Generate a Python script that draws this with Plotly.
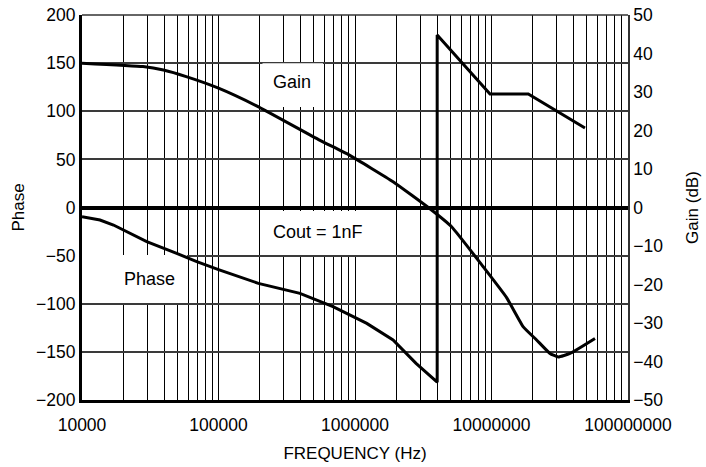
import plotly.graph_objects as go

# ---- data ----
gain_freq = [1e4, 2.8e4, 3.95e4, 5.8e4, 1e5, 1.9e5, 5.5e5, 9.1e5, 1.9e6, 3.5e6,
             5.1e6, 8.7e6, 1.29e7, 1.71e7, 2.14e7, 2.68e7, 3.09e7, 3.76e7, 5.73e7]
gain_db = [37.5, 36.6, 35.7, 34.0, 31.0, 26.4, 17.5, 13.6, 6.7, -0.2,
           -5.0, -15.4, -23.4, -31.0, -34.4, -37.9, -38.8, -37.9, -34.0]

phase_freq = [1e4, 1.355e4, 1.7e4, 2.01e4, 2.98e4, 4.94e4, 6.93e4, 1e5, 1.96e5,
              3.95e5, 6.9e5, 1.22e6, 1.9e6, 2.8e6, 4.0e6, 4.0e6, 9.75e6, 1.86e7, 4.84e7]
phase_deg = [-9.6, -13.0, -18.2, -23.4, -35.5, -47.6, -56.3, -64.5, -78.8,
             -89.2, -103.1, -120.4, -137.7, -161.9, -181.5, 179.2, 117.9, 117.9, 82.6]

decades = [1e4, 1e5, 1e6, 1e7, 1e8]
decade_labels = ["10000", "100000", "1000000", "10000000", "100000000"]
phase_ticks = [-200, -150, -100, -50, 0, 50, 100, 150, 200]
gain_ticks = [-50, -40, -30, -20, -10, 0, 10, 20, 30, 40, 50]

# all 1..9 x 10^k grid positions, label only powers of ten
x_tickvals, x_ticktext = [], []
for d, lab in zip(decades, decade_labels):
    if d == decades[-1]:
        x_tickvals.append(d); x_ticktext.append(lab)
        break
    for m in range(1, 10):
        x_tickvals.append(d * m)
        x_ticktext.append(lab if m == 1 else "")

TICK_FONT = dict(family="Liberation Sans, Arial, sans-serif", size=17.5, color="black")
TITLE_FONT = dict(family="Liberation Sans, Arial, sans-serif", size=17, color="black")
LABEL_FONT = dict(family="Liberation Sans, Arial, sans-serif", size=18, color="black")

fig = go.Figure()
fig.add_trace(go.Scatter(x=phase_freq, y=phase_deg, mode="lines", name="Phase",
                         line=dict(color="black", width=3), yaxis="y"))
fig.add_trace(go.Scatter(x=gain_freq, y=gain_db, mode="lines", name="Gain",
                         line=dict(color="black", width=3, shape="spline", smoothing=0.4),
                         yaxis="y2"))

fig.update_layout(
    width=706, height=467,
    margin=dict(l=82, r=78, t=15, b=67),
    paper_bgcolor="white", plot_bgcolor="white",
    showlegend=False,
    xaxis=dict(type="log", range=[4, 8], tickvals=x_tickvals, ticktext=x_ticktext,
               showgrid=True, gridcolor="black", gridwidth=1,
               showline=True, linecolor="black", linewidth=3, ticks="",
               tickfont=TICK_FONT, automargin=False, ticklabelstandoff=7,
               title=dict(text="FREQUENCY (Hz)", font=TITLE_FONT, standoff=14)),
    yaxis=dict(range=[-200, 200], tickvals=phase_ticks,
               showgrid=True, gridcolor="#3a3a3a", gridwidth=1.5,
               zeroline=True, zerolinecolor="black", zerolinewidth=3.5,
               showline=True, linecolor="black", linewidth=3, ticks="",
               tickfont=TICK_FONT, automargin=False,
               title=dict(text="Phase", font=TITLE_FONT, standoff=8)),
    yaxis2=dict(range=[-50, 50], tickvals=gain_ticks, overlaying="y", side="right",
                showgrid=False, zeroline=False,
                showline=True, linecolor="#333", linewidth=1.5, ticks="",
                tickfont=TICK_FONT, automargin=False,
                title=dict(text="Gain (dB)", font=TITLE_FONT, standoff=24)),
)

# top border
fig.add_shape(type="line", xref="paper", yref="paper", x0=0, x1=1, y0=1, y1=1,
              line=dict(color="#333", width=1.5), layer="above")

# white label boxes hiding the grid (between grid and traces), in data units (x: Hz, y: phase)
boxes = [(2.1e5, 5.83e5, 104.4, 150.0), (1.0e4, 5.88e4, -99.2, -49.4), (2.1e5, 1.45e6, -49.4, -3.6)]
for x0, x1, y0, y1 in boxes:
    fig.add_shape(type="rect", xref="x", yref="y", x0=x0, x1=x1, y0=y0, y1=y1,
                  fillcolor="white", line=dict(width=0), layer="between")

for txt, x, y in [("Gain", 0.385, 0.826), ("Phase", 0.123, 0.314), ("Cout = 1nF", 0.432, 0.436)]:
    fig.add_annotation(text=txt, xref="paper", yref="paper", x=x, y=y, showarrow=False,
                       font=LABEL_FONT, xanchor="center", yanchor="middle")

fig.write_html("out.html", config={"displayModeBar": False},
               post_script="document.body.style.margin='0';document.body.style.overflow='hidden';")
